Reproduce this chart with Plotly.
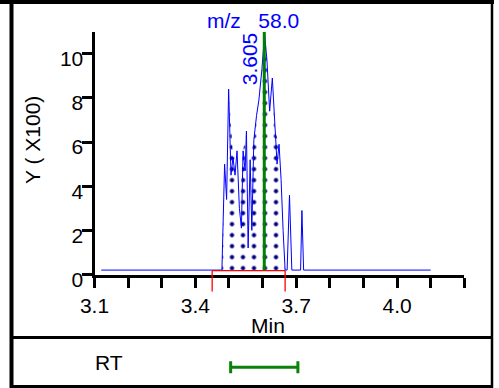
import plotly.graph_objects as go

# ---- data ----
rt_min = [3.120, 3.479, 3.487, 3.493, 3.499, 3.506, 3.512, 3.518, 3.524, 3.531,
          3.537, 3.542, 3.548, 3.552, 3.557, 3.563, 3.568, 3.574, 3.582, 3.589,
          3.598, 3.606, 3.613, 3.621, 3.629, 3.637, 3.643, 3.649, 3.655, 3.661,
          3.667, 3.673, 3.680, 3.687, 3.713, 3.717, 3.722, 4.100]
intensity_x100 = [0.2, 0.2, 5.0, 3.4, 8.4, 4.5, 5.3, 4.5, 5.6, 3.0,
                  2.1, 5.6, 4.7, 6.5, 1.2, 5.2, 2.0, 6.1, 7.2, 7.9,
                  9.3, 10.9, 9.7, 7.4, 8.9, 6.5, 5.0, 5.9, 4.3, 2.0,
                  0.2, 0.2, 3.6, 0.2, 0.2, 2.9, 0.2, 0.2]

x_tick_vals = [3.1, 3.2, 3.3, 3.4, 3.5, 3.6, 3.7, 3.8, 3.9, 4.0, 4.1, 4.2]
x_tick_text = ["3.1", "", "", "3.4", "", "", "3.7", "", "", "4.0", "", ""]
y_tick_vals = [0, 2, 4, 6, 8, 10]
y_tick_text = ["0", "2", "4", "6", "8", "10"]

peak_apex = 3.605
fill_start, fill_end = 3.479, 3.667
integ_start, integ_end = 3.450, 3.667
baseline_level = 0.2
rt_window_center = 3.605
rt_window_half = 0.100
mz_label = "m/z\u00a0\u00a0\u00a058.0"

W, H = 499, 388
def px(x):
    return x / W
def py(y):
    return 1 - y / H

FONT = "Liberation Sans, Arial, sans-serif"
FS = 21
BLUE = "#0000FF"
GREEN = "#0A820A"

fig = go.Figure()

# integration fill: points within the window, skipping narrow dips (upper outline)
seg = [(t, v) for t, v in zip(rt_min, intensity_x100) if fill_start <= t <= fill_end]
env = [seg[0]]
for i in range(1, len(seg) - 1):
    if not (seg[i][1] < seg[i - 1][1] and seg[i][1] < seg[i + 1][1]):
        env.append(seg[i])
env.append(seg[-1])
fx = [p[0] for p in env]
fy = [p[1] for p in env]

fig.add_trace(go.Scatter(x=[fill_start, fill_end], y=[baseline_level, baseline_level],
                         mode="lines", line=dict(width=0, color="rgba(0,0,0,0)"),
                         showlegend=False, hoverinfo="skip"))
fig.add_trace(go.Scatter(x=fx, y=fy, mode="lines", fill="tonexty",
                         line=dict(width=0, color="rgba(0,0,0,0)"),
                         fillcolor="white",
                         fillpattern=dict(shape=".", fgcolor="#000080", bgcolor="white",
                                          fgopacity=1, size=11, solidity=0.12),
                         showlegend=False, hoverinfo="skip"))
# chromatogram line
fig.add_trace(go.Scatter(x=rt_min, y=intensity_x100, mode="lines",
                         line=dict(color=BLUE, width=1),
                         showlegend=False, hoverinfo="skip"))
# RT window bar in lower panel
fig.add_trace(go.Scatter(x=[rt_window_center], y=[0.5], yaxis="y2", mode="markers",
                         marker=dict(size=1, color="rgba(0,0,0,0)"),
                         error_x=dict(type="constant", value=rt_window_half,
                                      color=GREEN, thickness=3, width=6),
                         showlegend=False, hoverinfo="skip"))

shapes = []
# apex line
shapes.append(dict(type="line", xref="x", yref="y", x0=peak_apex, x1=peak_apex,
                   y0=baseline_level, y1=11, line=dict(color="#008000", width=3)))
# integration baseline (red)
shapes.append(dict(type="line", xref="x", yref="y", x0=integ_start, x1=integ_end,
                   y0=0.18, y1=0.18, line=dict(color="#FF0000", width=1.3)))
for xv in (integ_start, integ_end):
    shapes.append(dict(type="line", xref="x", yref="paper", x0=xv, x1=xv,
                       y0=py(270.5), y1=py(291.5), line=dict(color="#FF0000", width=1.3)))
# frame
shapes += [
    dict(type="line", xref="paper", yref="paper", x0=0, x1=px(494), y0=py(2), y1=py(2),
         line=dict(color="black", width=4)),
    dict(type="line", xref="paper", yref="paper", x0=px(11.5), x1=px(11.5), y0=py(0), y1=py(388),
         line=dict(color="black", width=4)),
    dict(type="line", xref="paper", yref="paper", x0=px(492), x1=px(492), y0=py(0), y1=py(388),
         line=dict(color="black", width=2.5)),
    dict(type="line", xref="paper", yref="paper", x0=px(10), x1=px(493), y0=py(337.5), y1=py(337.5),
         line=dict(color="black", width=3)),
    dict(type="line", xref="paper", yref="paper", x0=px(10), x1=px(493), y0=py(386.5), y1=py(386.5),
         line=dict(color="black", width=3)),
]

annotations = [
    dict(text="Y ( X100)", xref="paper", yref="paper", x=px(32), y=py(140),
         textangle=-90, showarrow=False, font=dict(family=FONT, size=FS, color="black"),
         xanchor="center", yanchor="middle"),
    dict(text="Min", xref="paper", yref="paper", x=px(268), y=py(325),
         showarrow=False, font=dict(family=FONT, size=FS, color="black"),
         xanchor="center", yanchor="middle"),
    dict(text=mz_label, xref="paper", yref="paper", x=px(252.5), y=py(20),
         showarrow=False, font=dict(family=FONT, size=FS, color=BLUE),
         xanchor="center", yanchor="middle"),
    dict(text=f"{peak_apex:.3f}", xref="x", yref="paper", x=peak_apex, y=py(58.5),
         textangle=-90, showarrow=False, font=dict(family=FONT, size=FS, color=BLUE),
         xanchor="right", yanchor="middle", xshift=-1),
    dict(text="RT", xref="paper", yref="paper", x=px(109), y=py(362.5),
         showarrow=False, font=dict(family=FONT, size=FS, color="black"),
         xanchor="center", yanchor="middle"),
]

fig.update_layout(
    width=W, height=H, autosize=False,
    margin=dict(l=0, r=0, t=0, b=0, pad=0, autoexpand=False),
    paper_bgcolor="white", plot_bgcolor="white",
    showlegend=False,
    font=dict(family=FONT, size=FS, color="black"),
    xaxis=dict(domain=[px(94.5), px(464.3)], range=[3.1, 4.2], anchor="y", automargin=False,
               showgrid=False, zeroline=False, showline=True, linecolor="black", linewidth=3,
               ticks="outside", ticklen=10, tickwidth=2.5, tickcolor="black",
               tickmode="array", tickvals=x_tick_vals, ticktext=x_tick_text,
               tickfont=dict(family=FONT, size=FS, color="black")),
    yaxis=dict(domain=[py(274.5), py(31.7)], range=[0, 11], anchor="x", automargin=False,
               showgrid=False, zeroline=False, showline=True, linecolor="black", linewidth=3,
               ticks="outside", ticklen=10, tickwidth=2.5, tickcolor="black",
               tickmode="array", tickvals=y_tick_vals, ticktext=y_tick_text,
               ticklabelstandoff=-6, ticklabelshift=5,
               tickfont=dict(family=FONT, size=FS, color="black")),
    yaxis2=dict(domain=[py(386), py(348.6)], range=[0, 1], anchor="x", visible=False,
                automargin=False),
    shapes=shapes,
    annotations=annotations,
)

fig.write_html("out.html", config={"displayModeBar": False},
               post_script="document.body.style.margin='0px';document.body.style.padding='0px';")
